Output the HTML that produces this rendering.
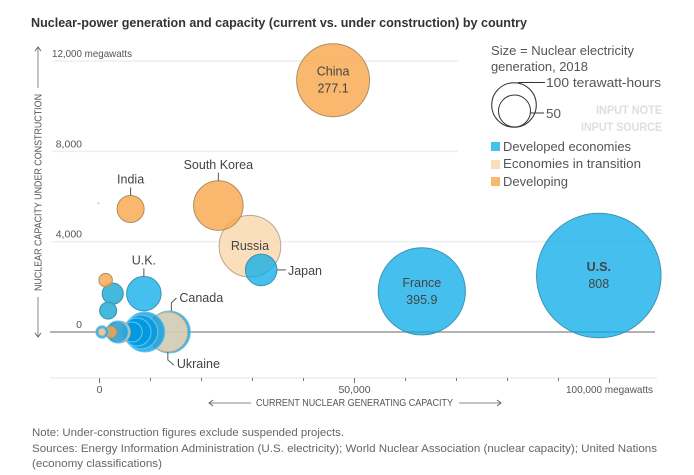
<!DOCTYPE html>
<html>
<head>
<meta charset="utf-8">
<title>Nuclear-power generation and capacity</title>
<style>
html,body{margin:0;padding:0;background:#fff;width:694px;height:475px;overflow:hidden}
svg{display:block;font-family:"Liberation Sans",sans-serif}
</style>
</head>
<body>
<svg id="chart" width="694" height="475" viewBox="0 0 694 475" xmlns="http://www.w3.org/2000/svg">
  <rect width="694" height="475" fill="#fff"/>
  <text x="31" y="27" font-size="13" font-weight="bold" fill="#333" textLength="496" lengthAdjust="spacingAndGlyphs">Nuclear-power generation and capacity (current vs. under construction) by country</text>

  <g id="grid"></g>
  <g id="bubbles"></g>
  <g id="labels"></g>

  <g>
    <line x1="38" y1="88" x2="38" y2="48" stroke="#888" stroke-width="1"/>
    <path d="M35 51 L38 47 L41 51" fill="none" stroke="#666" stroke-width="1"/>
    <text transform="translate(41.5,291) rotate(-90)" font-size="10" fill="#555" textLength="197" lengthAdjust="spacingAndGlyphs">NUCLEAR CAPACITY UNDER CONSTRUCTION</text>
    <line x1="38" y1="297" x2="38" y2="336" stroke="#888" stroke-width="1"/>
    <path d="M35 333 L38 337 L41 333" fill="none" stroke="#666" stroke-width="1"/>
  </g>

  <g>
    <line x1="210" y1="403" x2="251" y2="403" stroke="#888" stroke-width="1"/>
    <path d="M213 400 L209 403 L213 406" fill="none" stroke="#666" stroke-width="1"/>
    <text x="256" y="406" font-size="10" fill="#555" textLength="197" lengthAdjust="spacingAndGlyphs">CURRENT NUCLEAR GENERATING CAPACITY</text>
    <line x1="459" y1="403" x2="500" y2="403" stroke="#888" stroke-width="1"/>
    <path d="M497 400 L501 403 L497 406" fill="none" stroke="#666" stroke-width="1"/>
  </g>

  <g>
    <text x="491" y="55" font-size="13" fill="#555" textLength="143" lengthAdjust="spacingAndGlyphs">Size = Nuclear electricity</text>
    <text x="491" y="71" font-size="13" fill="#555" textLength="97" lengthAdjust="spacingAndGlyphs">generation, 2018</text>
    <circle cx="514" cy="105" r="22.3" fill="none" stroke="#333" stroke-width="1"/>
    <circle cx="514.5" cy="111" r="16" fill="none" stroke="#333" stroke-width="1"/>
    <line x1="518" y1="82.5" x2="545" y2="82.5" stroke="#333" stroke-width="1"/>
    <line x1="530" y1="113" x2="544" y2="113" stroke="#333" stroke-width="1"/>
    <text x="546" y="87" font-size="13" fill="#555" textLength="115" lengthAdjust="spacingAndGlyphs">100 terawatt-hours</text>
    <text x="546" y="118" font-size="13" fill="#555" textLength="15" lengthAdjust="spacingAndGlyphs">50</text>
  </g>

  <text x="662" y="114" font-size="11.5" font-weight="bold" fill="#dedede" text-anchor="end" textLength="66" lengthAdjust="spacingAndGlyphs">INPUT NOTE</text>
  <text x="662" y="131" font-size="11.5" font-weight="bold" fill="#dedede" text-anchor="end" textLength="81" lengthAdjust="spacingAndGlyphs">INPUT SOURCE</text>

  <g>
    <rect x="491" y="142" width="9" height="9" fill="#45c1ee"/>
    <text x="503" y="151" font-size="13" fill="#555" textLength="128" lengthAdjust="spacingAndGlyphs">Developed economies</text>
    <rect x="491" y="160" width="9" height="9" fill="#fbdfbd"/>
    <text x="503" y="168" font-size="13" fill="#555" textLength="138" lengthAdjust="spacingAndGlyphs">Economies in transition</text>
    <rect x="491" y="177" width="9" height="9" fill="#f9b86e"/>
    <text x="503" y="186" font-size="13" fill="#555" textLength="65" lengthAdjust="spacingAndGlyphs">Developing</text>
  </g>

  <g font-size="11" fill="#666">
    <text x="32" y="436" textLength="312" lengthAdjust="spacingAndGlyphs">Note: Under-construction figures exclude suspended projects.</text>
    <text x="32" y="452" textLength="625" lengthAdjust="spacingAndGlyphs">Sources: Energy Information Administration (U.S. electricity); World Nuclear Association (nuclear capacity); United Nations</text>
    <text x="32" y="467" textLength="130" lengthAdjust="spacingAndGlyphs">(economy classifications)</text>
  </g>
</svg>

<script>
// Chart data (capacity and under-construction in MW, generation in TWh)
const countries = ["U.S.","France","Russia","China","South Korea","Japan","India","U.K.","Unlabeled-b","Unlabeled-a","Pakistan","Unlabeled-d","Unlabeled-c","Unlabeled-e","Canada","Ukraine","Germany","Sweden","Spain","Belgium","Unlabeled-f","Czech Republic","Unlabeled-g","Unlabeled-h","Unlabeled-i"];
const capacityMW = [97900,63200,29500,45800,23300,31700,6100,8700,2600,2600,1200,1700,1700,-200,13700,13400,8900,8100,7350,6400,3900,3500,2250,500,500];
const underConstructionMW = [2500,1800,3800,11150,5600,2750,5450,1700,1700,1700,2300,950,950,5700,0,0,0,0,0,0,0,0,0,0,0];
const generationTWh = [808,395.9,198,277.1,128,52,38,62,23,23,9.5,15,15,0.2,92,83,83,60,41,21,25,25,7.5,8,3.3];
const economyTypes = ["dev","dev","tra","ing","ing","dev","ing","dev","tra","dev","ing","tra","dev","ing","dev","tra","dev","dev","dev","dev","tra","dev","ing","dev","tra"];
const yTickValues = [0,4000,8000,12000];
const yTickLabels = ["0","4,000","8,000","12,000 megawatts"];
const xTickValues = [0,10000,20000,30000,40000,50000,60000,70000,80000,90000,100000];
const xTickLabels = ["0","","","","","50,000","","","","","100,000 megawatts"];

const xScale = v => 99.5 + v * 0.0051;
const yScale = v => 332 - v * 0.02258;
const rScale = v => 2.19 * Math.sqrt(v);

const NS = "http://www.w3.org/2000/svg";
const fills = {dev:"#07abe8", tra:"#fad7ac", ing:"#f8a64a"};
const axisDevFill = "#0098e0";
const strokes = {dev:"#3b93b4", tra:"#b9a78f", ing:"#b08d60"};
const gridG = document.getElementById("grid");
const bubbleG = document.getElementById("bubbles");
const labelG = document.getElementById("labels");

function mk(tag, attrs, parent, txt) {
  const el = document.createElementNS(NS, tag);
  for (const k in attrs) el.setAttribute(k, attrs[k]);
  if (txt !== undefined) el.textContent = txt;
  parent.appendChild(el);
  return el;
}
function slug(s) { return s.toLowerCase().replace(/[^a-z0-9]+/g, "-").replace(/^-|-$/g, ""); }

yTickValues.forEach((v, i) => {
  const y = yScale(v);
  const zero = v === 0;
  const ln = mk("line", {x1: zero ? 50 : 52, x2: (zero || v === 4000) ? 655 : 458, y1: y, y2: y, stroke: zero ? "#999" : "#eee", "stroke-width": 1.5}, gridG);
  
  
  const long = i === yTickLabels.length - 1;
  const t = mk("text", {x: long ? 52 : 82, y: y - 4, "font-size": 10.5, fill: "#555", "text-anchor": long ? "start" : "end"}, gridG, yTickLabels[i]);
  if (long) { t.setAttribute("textLength", 80); t.setAttribute("lengthAdjust", "spacingAndGlyphs"); }
  
  
});

const xBase = mk("line", {x1: 50, x2: 657, y1: 378, y2: 378, stroke: "#eee", "stroke-width": 1.5}, gridG);


xTickValues.forEach((v, i) => {
  const x = xScale(v);
  const major = xTickLabels[i] !== "";
  const tk = mk("line", {x1: x, x2: x, y1: 378, y2: major ? 383 : 381, stroke: "#777", "stroke-width": 1}, gridG);
  
  
  if (major) {
    const long = v === 100000;
    const t = mk("text", {x: long ? 566 : x, y: 393, "font-size": 10.5, fill: "#555", "text-anchor": long ? "start" : "middle"}, gridG, xTickLabels[i]);
    if (long) { t.setAttribute("textLength", 87); t.setAttribute("lengthAdjust", "spacingAndGlyphs"); }
    
    
  }
});

countries.forEach((name, i) => {
  const type = economyTypes[i];
  const onAxis = underConstructionMW[i] === 0;
  const r = rScale(generationTWh[i]);
  const axisDev = onAxis && type === "dev";
  const c = mk("circle", {
    cx: xScale(capacityMW[i]), cy: yScale(underConstructionMW[i]), r: r,
    fill: axisDev ? axisDevFill : fills[type], "fill-opacity": type === "dev" ? 0.75 : 0.8,
    stroke: axisDev ? "#62c8f0" : strokes[type],
    "stroke-width": r < 2 ? 0 : 1
  }, bubbleG);
  
  
});

function idx(n) { return countries.indexOf(n); }
function label(txt, x, y, anchor, weight) {
  const t = mk("text", {x: x, y: y, "font-size": 12.5, fill: "#444", "text-anchor": anchor || "middle", "font-weight": weight || "normal"}, labelG, txt);
  
  
}
function leader(d, name) {
  const p = mk("path", {d: d, fill: "none", stroke: "#555", "stroke-width": 1}, labelG);
  
  
}
function pos(n) {
  const i = idx(n);
  return {x: xScale(capacityMW[i]), y: yScale(underConstructionMW[i]), r: rScale(generationTWh[i]), v: generationTWh[i]};
}
function topLabel(n) {
  const p = pos(n);
  leader(`M${p.x} ${p.y - p.r} V${p.y - p.r - 8}`, slug(n));
  label(n, p.x, p.y - p.r - 12);
}
function innerLabel(n, weight) {
  const p = pos(n);
  label(n, p.x, p.y - 4.5, "middle", weight);
  label(String(p.v), p.x, p.y + 12.5);
}

innerLabel("China");
innerLabel("France");
innerLabel("U.S.", "bold");
const ru = pos("Russia");
label("Russia", ru.x, ru.y + 4);
topLabel("South Korea");
topLabel("India");
topLabel("U.K.");
const jp = pos("Japan");
leader(`M${jp.x + jp.r} ${jp.y} H${jp.x + jp.r + 9}`, "japan");
label("Japan", jp.x + jp.r + 11, jp.y + 5, "start");
const ca = pos("Canada");
leader(`M${ca.x + 2} ${ca.y - ca.r} V${ca.y - ca.r - 8} L${ca.x + 7} ${ca.y - ca.r - 13}`, "canada");
label("Canada", ca.x + 10, ca.y - ca.r - 9, "start");
const ua = pos("Ukraine");
leader(`M${ua.x} ${ua.y + ua.r} V${ua.y + ua.r + 8} L${ua.x + 6} ${ua.y + ua.r + 13}`, "ukraine");
label("Ukraine", ua.x + 9, ua.y + ua.r + 16, "start");
</script>
</body>
</html>
